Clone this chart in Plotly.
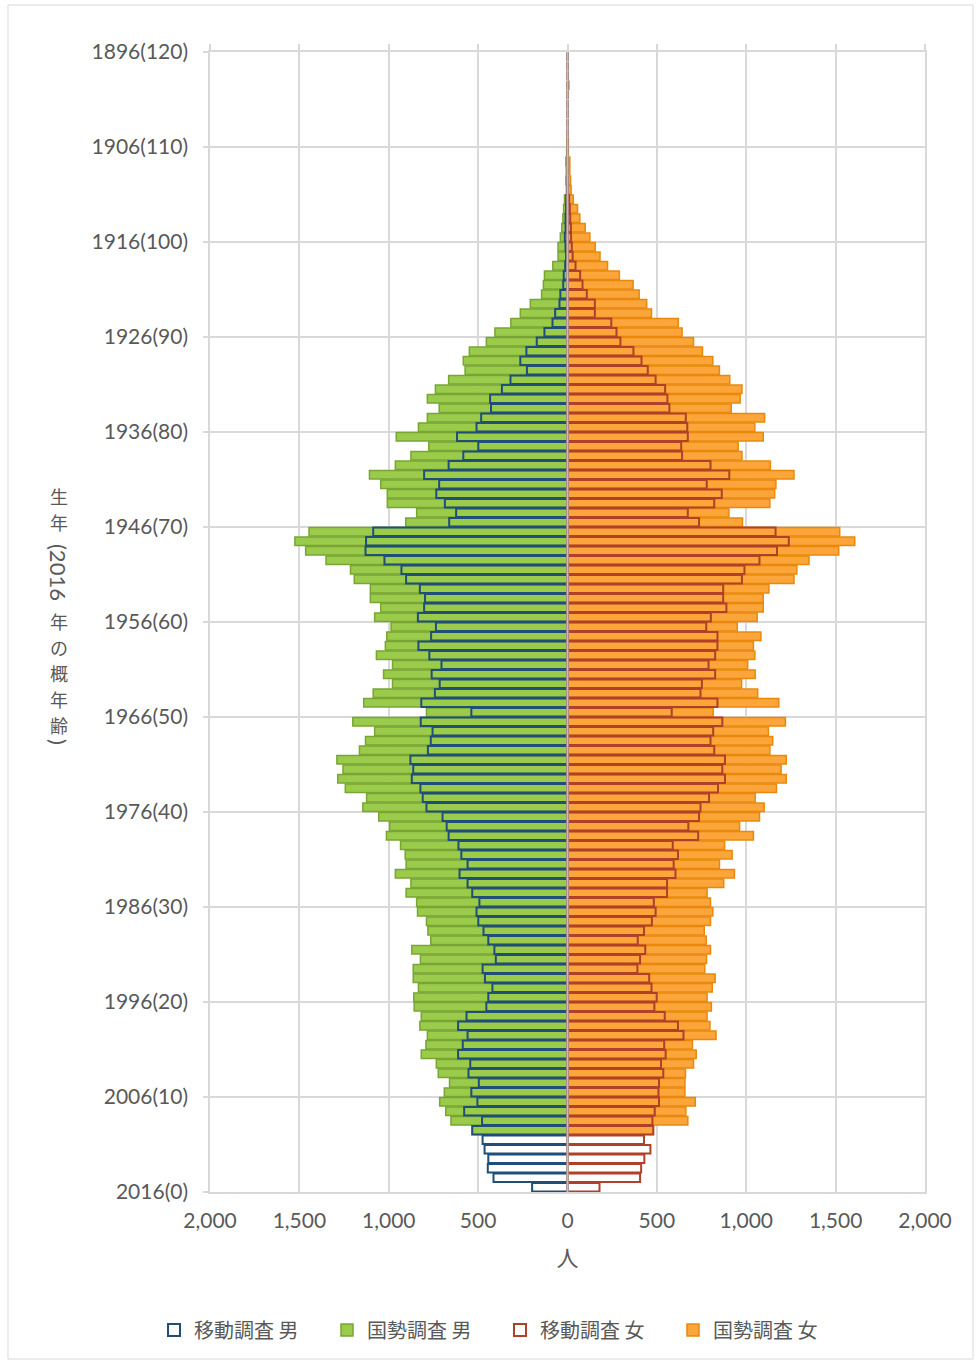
import plotly.graph_objects as go

# ---------------- data (index = age 0..119, birth year = 2016 - age) ----------------
ages = list(range(0, 120))

move_male = [198, 414, 446, 443, 464, 475, 533, 478, 578, 504,
             538, 496, 554, 544, 612, 586, 559, 612, 565, 454,
             443, 420, 462, 475, 401, 409, 443, 470, 499, 509,
             493, 533, 559, 604, 559, 594, 610, 665, 676, 699,
             789, 810, 823, 871, 863, 879, 781, 765, 755, 821,
             538, 818, 742, 715, 760, 705, 773, 834, 763, 736,
             837, 802, 797, 826, 903, 929, 1024, 1130, 1127, 1087,
             662, 623, 686, 734, 718, 802, 665, 583, 499, 618,
             509, 483, 428, 433, 367, 319, 227, 264, 230, 172,
             129, 84, 69, 45, 40, 24, 21, 13, 8, 11,
             15, 11, 11, 8, 7, 3, 0, 0, 0, 0,
             0, 0, 0, 0, 0, 0, 0, 0, 0, 0]

census_male = [None, None, None, None, None, None, 533, 652, 681, 715,
               689, 660, 723, 734, 818, 792, 784, 826, 818, 858,
               860, 834, 863, 863, 823, 871, 765, 781, 789, 839,
               844, 903, 876, 963, 903, 908, 934, 1013, 995, 1056,
               1145, 1124, 1243, 1285, 1256, 1290, 1164, 1130, 1079, 1201,
               789, 1140, 1087, 979, 1029, 979, 1069, 1019, 1011, 987,
               1079, 1045, 1103, 1103, 1193, 1214, 1351, 1465, 1525, 1446,
               905, 844, 1008, 1008, 1045, 1108, 963, 876, 776, 958,
               834, 784, 718, 784, 739, 665, 573, 583, 549, 454,
               406, 317, 264, 208, 145, 135, 129, 82, 53, 53,
               40, 32, 26, 22, 17, 6, 9, 7, 9, 5,
               4, 0, 0, 0, 0, 0, 0, 0, 0, 0]

move_female = [179, 406, 412, 430, 464, 428, 480, 475, 488, 512,
               509, 512, 536, 523, 549, 541, 649, 618, 544, 486,
               499, 470, 457, 391, 406, 435, 393, 428, 472, 493,
               483, 557, 557, 604, 594, 618, 589, 731, 676, 736,
               744, 792, 842, 881, 866, 881, 821, 800, 815, 866,
               583, 839, 744, 752, 826, 789, 826, 839, 839, 776,
               802, 889, 871, 871, 976, 990, 1074, 1172, 1238, 1164,
               736, 673, 821, 863, 779, 905, 800, 641, 636, 673,
               670, 662, 570, 559, 546, 493, 449, 414, 369, 296,
               274, 245, 153, 153, 108, 84, 71, 45, 29, 24,
               20, 19, 15, 13, 9, 0, 0, 0, 0, 0,
               0, 0, 0, 0, 0, 0, 0, 0, 0, 0]

census_female = [None, None, None, None, None, None, 480, 673, 662, 715,
                 657, 657, 660, 705, 720, 699, 831, 797, 781, 805,
                 781, 810, 826, 768, 778, 800, 776, 765, 800, 813,
                 800, 781, 874, 934, 850, 921, 879, 1040, 963, 1074,
                 1100, 1050, 1169, 1224, 1195, 1224, 1132, 1148, 1124, 1219,
                 815, 1182, 1064, 974, 1050, 1008, 1048, 1040, 1082, 950,
                 1061, 1095, 1095, 1127, 1267, 1283, 1351, 1517, 1607, 1523,
                 979, 903, 1132, 1159, 1166, 1267, 1135, 976, 955, 1095,
                 1048, 1103, 916, 966, 976, 908, 850, 813, 755, 705,
                 641, 620, 470, 443, 401, 367, 290, 224, 182, 155,
                 125, 99, 69, 56, 32, 20, 17, 13, 13, 5,
                 5, 0, 0, 0, 0, 0, 8, 0, 0, 0]

y_tick_ages = [0, 10, 20, 30, 40, 50, 60, 70, 80, 90, 100, 110, 120]
y_tick_labels = ["2016(0)", "2006(10)", "1996(20)", "1986(30)", "1976(40)",
                 "1966(50)", "1956(60)", "1946(70)", "1936(80)", "1926(90)",
                 "1916(100)", "1906(110)", "1896(120)"]
x_tick_vals = [-2000, -1500, -1000, -500, 0, 500, 1000, 1500, 2000]
x_tick_labels = ["2,000", "1,500", "1,000", "500", "0", "500", "1,000", "1,500", "2,000"]

series_names = ["移動調査 男", "国勢調査 男", "移動調査 女", "国勢調査 女"]

# ---------------- figure ----------------
W, H = 976, 1362
L, R, T, B = 210, 51, 52, 170
PW, PH = W - L - R, H - T - B

TEXT = "#595959"
GRID = "#d9d9d9"
FONT = "Lato, 'Noto Sans CJK JP', sans-serif"
CJK = "'Noto Sans CJK JP', sans-serif"


def py2paper(py):
    return (T + PH - py) / PH


def px2paper(px):
    return (px - L) / PW


ypos = [a + 0.5 for a in ages]
neg = lambda arr: [None if v is None else -v for v in arr]

fig = go.Figure()
fig.add_trace(go.Bar(
    name=series_names[1], x=neg(census_male), y=ypos, orientation="h",
    width=0.9, marker=dict(color="#9BCB4B", line=dict(color="#78A534", width=1.5)),
    legendrank=2))
fig.add_trace(go.Bar(
    name=series_names[3], x=census_female, y=ypos, orientation="h",
    width=0.9, marker=dict(color="#FBA53A", line=dict(color="#E8890C", width=1.5)),
    legendrank=4))
fig.add_trace(go.Bar(
    name=series_names[0], x=neg(move_male), y=ypos, orientation="h",
    width=0.9, marker=dict(color="rgba(255,255,255,0)", line=dict(color="#1F4E79", width=2)),
    legendrank=1))
fig.add_trace(go.Bar(
    name=series_names[2], x=move_female, y=ypos, orientation="h",
    width=0.9, marker=dict(color="rgba(255,255,255,0)", line=dict(color="#B0402A", width=2)),
    legendrank=3))
# dummy trace so the top tick-mark axis is drawn
fig.add_trace(go.Scatter(x=[None], y=[None], xaxis="x2", showlegend=False, hoverinfo="skip"))

fig.update_layout(
    width=W, height=H,
    margin=dict(l=L, r=R, t=T, b=B),
    paper_bgcolor="white", plot_bgcolor="white",
    barmode="overlay",
    font=dict(family=FONT, color=TEXT, size=21),
    showlegend=True,
    legend=dict(orientation="h", x=px2paper(500), xanchor="center",
                y=py2paper(1330), yanchor="middle",
                font=dict(family=CJK, size=20, color=TEXT),
                entrywidth=128, entrywidthmode="pixels",
                itemwidth=30, traceorder="normal"),
    xaxis=dict(range=[-2000, 2000], tickvals=x_tick_vals, ticktext=x_tick_labels,
               showgrid=True, gridcolor=GRID, gridwidth=1.5,
               showline=True, linecolor=GRID, linewidth=1.5, mirror=True,
               zeroline=False, ticks="", ticklabelstandoff=9,
               tickfont=dict(size=21, color=TEXT),
               title=dict(text="人", font=dict(family=CJK, size=22, color=TEXT), standoff=20),
               fixedrange=True),
    xaxis2=dict(range=[-2000, 2000], overlaying="x", side="top", anchor="y",
                tickvals=x_tick_vals, showticklabels=False, ticks="outside",
                ticklen=7, tickwidth=1.5, tickcolor=GRID, showgrid=False,
                showline=False, zeroline=False, fixedrange=True),
    yaxis=dict(range=[0, 120], tickvals=y_tick_ages, ticktext=y_tick_labels,
               showgrid=True, gridcolor=GRID, gridwidth=1.5,
               showline=True, linecolor=GRID, linewidth=1.5, mirror=True,
               zeroline=False, ticks="outside", ticklen=5, tickwidth=1.5,
               tickcolor=GRID, ticklabelstandoff=11,
               tickfont=dict(size=21, color=TEXT), fixedrange=True),
)

# zero axis line drawn above the bars
fig.add_shape(type="line", xref="x", yref="paper", x0=0, x1=0, y0=0, y1=1,
              line=dict(color="#BFBFBF", width=2), layer="above")

# outer chart-area frame
fig.add_shape(type="rect", xref="paper", yref="paper",
              x0=px2paper(8), x1=px2paper(973),
              y0=py2paper(1359), y1=py2paper(5),
              line=dict(color="#D9D9D9", width=1), fillcolor="rgba(0,0,0,0)", layer="below")

# vertical (stacked) y-axis title: CJK upright, Latin part rotated
title_x = px2paper(59)
title_parts = [("生", 496, 0), ("年", 522, 0), ("(2016", 572, 90), ("年", 621, 0),
               ("の", 647, 0), ("概", 673, 0), ("年", 699, 0), ("齢", 725, 0), (")", 742, 90)]
for txt, py, ang in title_parts:
    fig.add_annotation(text=txt, xref="paper", yref="paper", x=title_x,
                       y=py2paper(py), showarrow=False, textangle=ang,
                       xanchor="center", yanchor="middle", borderpad=0,
                       font=dict(family=CJK if ang == 0 else FONT,
                                 size=18 if ang == 0 else 22, color=TEXT))

fig.write_html("out.html", post_script="document.body.style.margin='0px';",
               config={"displayModeBar": False})
